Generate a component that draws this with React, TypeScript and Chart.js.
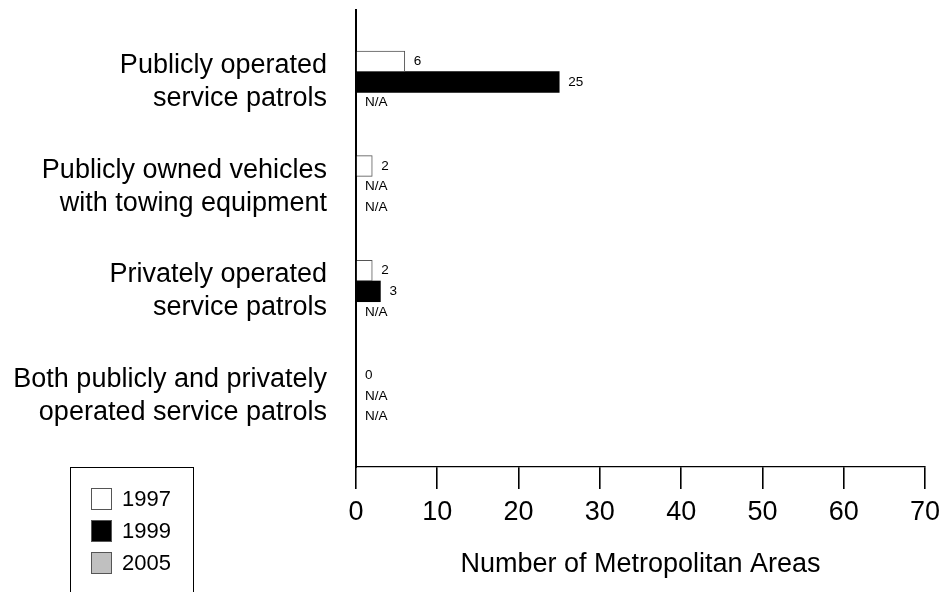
import React, { useEffect, useRef } from "react";
import { Chart, registerables } from "chart.js";

Chart.register(...registerables);

const categories: string[][] = [
  ["Publicly operated", "service patrols"],
  ["Publicly owned vehicles", "with towing equipment"],
  ["Privately operated", "service patrols"],
  ["Both publicly and privately", "operated service patrols"],
];
const years = ["1997", "1999", "2005"];
const values1997: (number | null)[] = [6, 2, 2, 0];
const values1999: (number | null)[] = [25, null, 3, null];
const values2005: (number | null)[] = [null, null, null, null];
const xTicks = [0, 10, 20, 30, 40, 50, 60, 70];

const FONT = "'Liberation Sans', Arial, Helvetica, sans-serif";

const toPoints = (arr: (number | null)[]) => arr.map((v, i) => ({ x: v, y: i }));

const valueLabelPlugin = {
  id: "valueLabels",
  afterDatasetsDraw(chart: any) {
    const ctx = chart.ctx;
    const xScale = chart.scales.x;
    const yScale = chart.scales.y;
    ctx.save();
    ctx.font = `13.5px ${FONT}`;
    ctx.fillStyle = "#000";
    ctx.textAlign = "left";
    ctx.textBaseline = "middle";
    chart.data.datasets.forEach((ds: any, di: number) => {
      const meta = chart.getDatasetMeta(di);
      ds.data.forEach((pt: any, i: number) => {
        const el = meta.data[i];
        const y = el && isFinite(el.y) ? el.y : yScale.getPixelForValue(i) + (di - 1) * 20.7;
        const v = pt.x;
        if (v === null || v === undefined) {
          ctx.fillText("N/A", xScale.getPixelForValue(0) + 9, y);
        } else {
          ctx.fillText(String(v), xScale.getPixelForValue(v) + 9, y);
        }
      });
    });
    ctx.restore();
  },
};

const boxLegendPlugin = {
  id: "boxLegend",
  afterDraw(chart: any) {
    const ctx = chart.ctx;
    ctx.save();
    ctx.strokeStyle = "#000";
    ctx.lineWidth = 1;
    ctx.strokeRect(70.5, 467.5, 123, 140);
    chart.data.datasets.forEach((ds: any, i: number) => {
      const y = 488 + i * 32;
      ctx.fillStyle = ds.backgroundColor;
      ctx.fillRect(91.5, y + 0.5, 20, 21);
      ctx.strokeStyle = "#555";
      ctx.strokeRect(91.5, y + 0.5, 20, 21);
      ctx.fillStyle = "#000";
      ctx.font = `22px ${FONT}`;
      ctx.textBaseline = "middle";
      ctx.textAlign = "left";
      ctx.fillText(ds.label, 122, y + 12);
    });
    ctx.restore();
  },
};

export default function App() {
  const ref = useRef<HTMLCanvasElement | null>(null);

  useEffect(() => {
    if (!ref.current) return;
    Chart.defaults.font.family = FONT;
    const chart = new Chart(ref.current, {
      type: "bar",
      data: {
        datasets: [
          {
            label: years[0],
            data: toPoints(values1997) as any,
            backgroundColor: "#ffffff",
            borderColor: "#555555",
            borderWidth: 1,
          },
          {
            label: years[1],
            data: toPoints(values1999) as any,
            backgroundColor: "#000000",
            borderColor: "#000000",
            borderWidth: 0,
          },
          {
            label: years[2],
            data: toPoints(values2005) as any,
            backgroundColor: "#c0c0c0",
            borderColor: "#555555",
            borderWidth: 1,
          },
        ],
      },
      options: {
        indexAxis: "y",
        responsive: false,
        animation: false,
        events: [],
        barThickness: 20.7,
        layout: { padding: { top: 10, right: 21, left: 0, bottom: 0 } },
        plugins: {
          legend: { display: false },
          tooltip: { enabled: false },
        },
        scales: {
          y: {
            type: "linear",
            reverse: true,
            offset: false,
            min: -0.688,
            max: 3.678,
            afterBuildTicks: (scale: any) => {
              scale.ticks = categories.map((_, i) => ({ value: i }));
            },
            afterFit: (scale: any) => {
              scale.width = 356;
              scale.paddingTop = 0;
              scale.paddingBottom = 0;
            },
            grid: { display: false, drawTicks: false, offset: false },
            border: { display: true, color: "#000", width: 2 },
            ticks: {
              padding: 29,
              color: "#000",
              font: { size: 27, lineHeight: 1.22 },
              callback: (v: any) => categories[v as number] ?? "",
            },
          },
          x: {
            type: "linear",
            min: 0,
            max: 70,
            afterBuildTicks: (scale: any) => {
              scale.ticks = xTicks.map((v) => ({ value: v }));
            },
            afterFit: (scale: any) => {
              scale.height = 125;
              scale.paddingLeft = 0;
              scale.paddingRight = 0;
            },
            grid: {
              display: true,
              drawOnChartArea: false,
              drawTicks: true,
              tickLength: 22,
              color: "#000",
              lineWidth: 1.6,
            },
            border: { display: true, color: "#000", width: 1.3 },
            ticks: {
              padding: 7,
              color: "#000",
              font: { size: 27 },
              maxRotation: 0,
            },
            title: {
              display: true,
              text: "Number of Metropolitan Areas",
              color: "#000",
              font: { size: 27, lineHeight: 1.2 },
              padding: { top: 0, bottom: 11 },
            },
          },
        },
      } as any,
      plugins: [valueLabelPlugin, boxLegendPlugin],
    });
    return () => chart.destroy();
  }, []);

  return (
    <div style={{ position: "absolute", left: 0, top: 0, width: 946, height: 592, background: "#fff" }}>
      <canvas ref={ref} width={946} height={592} style={{ display: "block", width: 946, height: 592 }} />
    </div>
  );
}
